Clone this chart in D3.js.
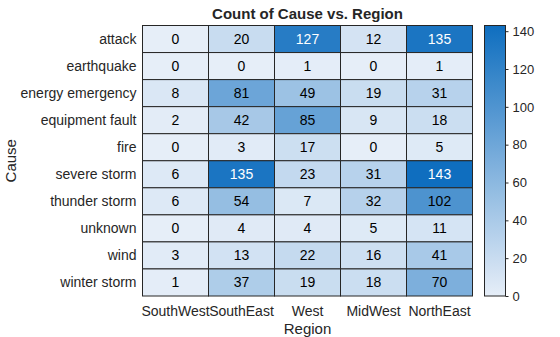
<!DOCTYPE html>
<html>
<head>
<meta charset="utf-8">
<script src="https://cdn.jsdelivr.net/npm/d3@7"></script>
<style>
  html, body { margin: 0; padding: 0; background: #fff; }
  svg { display: block; font-family: "Liberation Sans", Arial, sans-serif; }
</style>
</head>
<body>
<svg id="chart" width="560" height="337"></svg>
<script>
// Outage counts by cause (rows) and region (columns)
const causes = ["attack", "earthquake", "energy emergency", "equipment fault", "fire",
  "severe storm", "thunder storm", "unknown", "wind", "winter storm"];
const regions = ["SouthWest", "SouthEast", "West", "MidWest", "NorthEast"];
const counts = [
  [0, 20, 127, 12, 135],
  [0, 0, 1, 0, 1],
  [8, 81, 49, 19, 31],
  [2, 42, 85, 9, 18],
  [0, 3, 17, 0, 5],
  [6, 135, 23, 31, 143],
  [6, 54, 7, 32, 102],
  [0, 4, 4, 5, 11],
  [3, 13, 22, 16, 41],
  [1, 37, 19, 18, 70]
];
const colorTicks = [0, 20, 40, 60, 80, 100, 120, 140];

const svg = d3.select("#chart");
const grid = { left: 142.5, top: 25.5, right: 472.5, bottom: 296 };
const textColor = "#262626";

const x = d3.scaleBand().domain(regions).range([grid.left, grid.right]);
const y = d3.scaleBand().domain(causes).range([grid.top, grid.bottom]);

const maxVal = d3.max(counts.flat());
const color = d3.scaleLinear().domain([0, maxVal])
  .range(["#e6eef8", "#0f6ebf"]).interpolate(d3.interpolateRgb);

const cells = [];
counts.forEach((row, i) => row.forEach((v, j) => cells.push({ cause: causes[i], region: regions[j], v })));

// heatmap cells
svg.append("g").selectAll("rect").data(cells).join("rect")
  .attr("x", d => x(d.region))
  .attr("y", d => y(d.cause))
  .attr("width", x.bandwidth())
  .attr("height", y.bandwidth())
  .attr("fill", d => color(d.v))
  .attr("stroke", "#262626")
  .attr("stroke-width", 1);

// cell value labels
svg.append("g").selectAll("text").data(cells).join("text")
  .attr("x", d => x(d.region) + x.bandwidth() / 2)
  .attr("y", d => y(d.cause) + y.bandwidth() / 2)
  .attr("text-anchor", "middle")
  .attr("dominant-baseline", "central")
  .attr("font-size", 14)
  .attr("fill", d => d.v > 0.75 * maxVal ? "#ffffff" : "#000000")
  .text(d => d.v);

// row labels
svg.append("g").selectAll("text").data(causes).join("text")
  .attr("x", grid.left - 6)
  .attr("y", d => y(d) + y.bandwidth() / 2)
  .attr("text-anchor", "end")
  .attr("dominant-baseline", "central")
  .attr("font-size", 14)
  .attr("fill", textColor)
  .text(d => d);

// column labels
svg.append("g").selectAll("text").data(regions).join("text")
  .attr("x", d => x(d) + x.bandwidth() / 2)
  .attr("y", grid.bottom + 15)
  .attr("text-anchor", "middle")
  .attr("dominant-baseline", "central")
  .attr("font-size", 14)
  .attr("fill", textColor)
  .text(d => d);

// axis titles
svg.append("text")
  .attr("x", (grid.left + grid.right) / 2).attr("y", grid.bottom + 32)
  .attr("text-anchor", "middle").attr("dominant-baseline", "central")
  .attr("font-size", 15).attr("fill", textColor).text("Region");

svg.append("text")
  .attr("transform", `translate(10,${(grid.top + grid.bottom) / 2}) rotate(-90)`)
  .attr("text-anchor", "middle").attr("dominant-baseline", "central")
  .attr("font-size", 15).attr("fill", textColor).text("Cause");

svg.append("text")
  .attr("x", (grid.left + grid.right) / 2).attr("y", 13)
  .attr("text-anchor", "middle").attr("dominant-baseline", "central")
  .attr("font-size", 15).attr("font-weight", "bold").attr("fill", textColor)
  .text("Count of Cause vs. Region");

// colorbar
const cb = { x: 484.5, w: 21 };
const cScale = d3.scaleLinear().domain([0, maxVal]).range([grid.bottom, grid.top]);
const defs = svg.append("defs");
const grad = defs.append("linearGradient").attr("id", "cbgrad")
  .attr("x1", 0).attr("y1", 1).attr("x2", 0).attr("y2", 0);
d3.range(0, 1.0001, 0.1).forEach(t => {
  grad.append("stop").attr("offset", t).attr("stop-color", color(t * maxVal));
});
svg.append("rect")
  .attr("x", cb.x).attr("y", grid.top)
  .attr("width", cb.w).attr("height", grid.bottom - grid.top)
  .attr("fill", "url(#cbgrad)")
  .attr("stroke", "#262626").attr("stroke-width", 1);

const cAxis = svg.append("g")
  .attr("transform", `translate(${cb.x + cb.w},0)`)
  .call(d3.axisRight(cScale).tickValues(colorTicks).tickSize(3).tickPadding(4));
cAxis.select(".domain").remove();
cAxis.selectAll("line").attr("stroke", "#262626");
cAxis.selectAll("text").attr("font-size", 13).attr("fill", textColor)
  .attr("font-family", "Liberation Sans, Arial, sans-serif");
</script>
</body>
</html>
